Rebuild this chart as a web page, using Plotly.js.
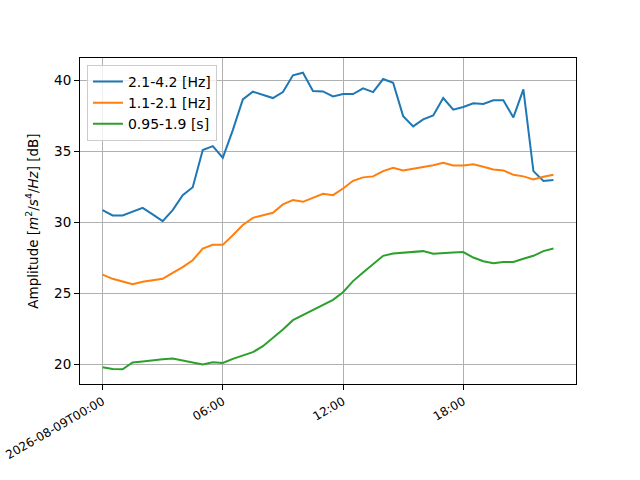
<!DOCTYPE html>
<html>
<head>
<meta charset="utf-8">
<script src="https://cdn.plot.ly/plotly-3.0.1.min.js"></script>
<style>
  html, body { margin: 0; padding: 0; background: #fff; }
  #plot { width: 640px; height: 480px; }
</style>
</head>
<body>
<div id="plot"></div>
<script>
// half-hourly samples, 2026-08-09
const times = [
  '2026-08-09 00:00', '2026-08-09 00:30', '2026-08-09 01:00', '2026-08-09 01:30',
  '2026-08-09 02:00', '2026-08-09 02:30', '2026-08-09 03:00', '2026-08-09 03:30',
  '2026-08-09 04:00', '2026-08-09 04:30', '2026-08-09 05:00', '2026-08-09 05:30',
  '2026-08-09 06:00', '2026-08-09 06:30', '2026-08-09 07:00', '2026-08-09 07:30',
  '2026-08-09 08:00', '2026-08-09 08:30', '2026-08-09 09:00', '2026-08-09 09:30',
  '2026-08-09 10:00', '2026-08-09 10:30', '2026-08-09 11:00', '2026-08-09 11:30',
  '2026-08-09 12:00', '2026-08-09 12:30', '2026-08-09 13:00', '2026-08-09 13:30',
  '2026-08-09 14:00', '2026-08-09 14:30', '2026-08-09 15:00', '2026-08-09 15:30',
  '2026-08-09 16:00', '2026-08-09 16:30', '2026-08-09 17:00', '2026-08-09 17:30',
  '2026-08-09 18:00', '2026-08-09 18:30', '2026-08-09 19:00', '2026-08-09 19:30',
  '2026-08-09 20:00', '2026-08-09 20:30', '2026-08-09 21:00', '2026-08-09 21:30',
  '2026-08-09 22:00', '2026-08-09 22:30',
];

const band_2_1_4_2 = [
  30.85, 30.47, 30.47, 30.73, 31.0, 30.54, 30.07, 30.85, 31.9, 32.46,
  35.07, 35.35, 34.53, 36.48, 38.64, 39.18, 38.97, 38.73, 39.15, 40.33,
  40.51, 39.23, 39.2, 38.85, 39.01, 39.01, 39.41, 39.15, 40.07, 39.81,
  37.46, 36.74, 37.23, 37.51, 38.73, 37.91, 38.1, 38.36, 38.31, 38.57,
  38.57, 37.37, 39.34, 33.59, 32.89, 32.96,
];

const band_1_1_2_1 = [
  26.31, 26.01, 25.82, 25.63, 25.8, 25.92, 26.01, 26.43, 26.83, 27.32,
  28.14, 28.4, 28.4, 29.08, 29.8, 30.3, 30.47, 30.66, 31.25, 31.55,
  31.43, 31.71, 32.0, 31.9, 32.37, 32.91, 33.15, 33.22, 33.59, 33.83,
  33.64, 33.76, 33.87, 34.01, 34.18, 33.99, 33.99, 34.08, 33.9, 33.71,
  33.64, 33.33, 33.22, 33.0, 33.19, 33.33,
];

const band_0_95_1_9 = [
  19.79, 19.67, 19.65, 20.12, 20.19, 20.28, 20.35, 20.4, 20.26, 20.09,
  19.98, 20.14, 20.09, 20.38, 20.63, 20.85, 21.27, 21.83, 22.44, 23.1,
  23.47, 23.8, 24.2, 24.53, 25.07, 25.85, 26.46, 27.04, 27.63, 27.79,
  27.86, 27.91, 27.96, 27.77, 27.79, 27.86, 27.89, 27.51, 27.25, 27.11,
  27.2, 27.2, 27.42, 27.63, 27.96, 28.15,
];

const seriesNames = ['2.1-4.2 [Hz]', '1.1-2.1 [Hz]', '0.95-1.9 [s]'];
const seriesColors = ['#1f77b4', '#ff7f0e', '#2ca02c'];

const xTickVals = ['2026-08-09 00:00', '2026-08-09 06:00', '2026-08-09 12:00', '2026-08-09 18:00'];
const xTickText = ['2026-08-09T00:00', '06:00', '12:00', '18:00'];
const yTickVals = [20, 25, 30, 35, 40];

const FONT = 'DejaVu Sans, sans-serif';

const data = [band_2_1_4_2, band_1_1_2_1, band_0_95_1_9].map((y, k) => ({
  x: times,
  y: y,
  type: 'scatter',
  mode: 'lines',
  name: seriesNames[k],
  line: { color: seriesColors[k], width: 2 },
}));

const axisCommon = {
  showline: true,
  mirror: true,
  linecolor: '#000',
  linewidth: 1,
  ticks: 'outside',
  ticklen: 5,
  tickwidth: 1,
  tickcolor: '#000',
  showgrid: true,
  gridcolor: '#b0b0b0',
  gridwidth: 1,
  zeroline: false,
  tickfont: { family: FONT, size: 13.5, color: '#000' },
};

const layout = {
  width: 640,
  height: 480,
  paper_bgcolor: '#fff',
  plot_bgcolor: '#fff',
  font: { family: FONT, color: '#000' },
  showlegend: true,
  margin: { l: 80, r: 64, t: 58, b: 96 },
  xaxis: Object.assign({}, axisCommon, {
    type: 'date',
    range: ['2026-08-08 22:52:30', '2026-08-09 23:37:30'],
    tickmode: 'array',
    tickvals: xTickVals,
    ticktext: xTickText,
    tickangle: -30,
    tickfont: { family: FONT, size: 12, color: '#000' },
  }),
  yaxis: Object.assign({}, axisCommon, {
    range: [18.61, 41.55],
    tickmode: 'array',
    tickvals: yTickVals,
    title: {
      text: 'Amplitude [<i>m</i><sup>2</sup>/<i>s</i><sup>4</sup>/<i>Hz</i>] [dB]',
      font: { family: FONT, size: 13.5, color: '#000' },
      standoff: 12,
    },
  }),
  legend: {
    x: 0.014,
    y: 0.979,
    xanchor: 'left',
    yanchor: 'top',
    bgcolor: 'rgba(255,255,255,0.8)',
    bordercolor: '#cccccc',
    borderwidth: 1,
    font: { family: FONT, size: 14, color: '#000' },
    tracegroupgap: 0,
  },
};

Plotly.newPlot('plot', data, layout, { staticPlot: true });
</script>
</body>
</html>
